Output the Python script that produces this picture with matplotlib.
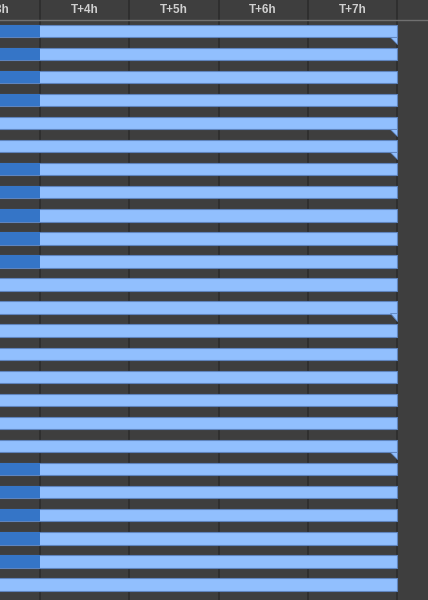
import numpy as np
import matplotlib.pyplot as plt

# Schedule rows (top to bottom), hours from T
row_start = [0] * 25
row_end = [8] * 25
row_done = [4, 4, 4, 4, 0, 0, 4, 4, 4, 4, 4, 0, 0,
            0, 0, 0, 0, 0, 0, 4, 4, 4, 4, 4, 0]
row_folded = [1, 0, 0, 0, 1, 1, 0, 0, 0, 0, 0, 0, 1,
              0, 0, 0, 0, 0, 1, 0, 0, 0, 0, 0, 0]
hour_ticks = [3, 4, 5, 6, 7, 8]
hour_labels = ['T+3h', 'T+4h', 'T+5h', 'T+6h', 'T+7h', 'T+8h']

bg = '#3e3e3e'
grid_col = '#2c2c2c'
light = '#91bffe'
dark = '#3575c7'
edge = '#5f84bd'

# pixel scale of the view
px_per_hour = 89.25
px_per_row = 23.07
x_lo = 4 - 40 / px_per_hour
x_hi = x_lo + 428 / px_per_hour
y_top = -30.75 / px_per_row
y_bot = y_top + 600 / px_per_row
header_y = y_top + 20 / px_per_row

fig = plt.figure(figsize=(4.28, 6), dpi=100, facecolor=bg)
ax = fig.add_axes([0, 0, 1, 1])
ax.set_xlim(x_lo, x_hi)
ax.set_ylim(y_bot, y_top)
ax.axis('off')

rows = np.arange(len(row_end))
start = np.array(row_start, dtype=float)
end = np.array(row_end, dtype=float)
done = np.array(row_done, dtype=float)
bar_h = 0.54

# grid
ax.vlines(hour_ticks, y_top, y_bot, color=grid_col, lw=1.2, zorder=1)
ax.axhline(header_y, color='#707070', lw=1, zorder=1)

# bars
ax.barh(rows, end - start, left=start, height=bar_h, color=light,
        edgecolor=edge, linewidth=0.8, zorder=2)
m = done > start
ax.barh(rows[m], (done - start)[m], left=start[m], height=bar_h,
        color=dark, linewidth=0, zorder=3)

# folded corner markers
dx = 7 / px_per_hour
dy = 7 / px_per_row
for i in rows:
    if row_folded[i]:
        b = i + bar_h / 2
        ax.fill([end[i] - dx, end[i], end[i]], [b - 0.02, b - 0.02, b + dy],
                color=light, edgecolor=edge, linewidth=0.6, zorder=2)

# header labels centred in each hour column
for h, lab in zip(hour_ticks, hour_labels):
    ax.text(h + 0.5, (y_top + header_y) / 2, lab, ha='center', va='center',
            color='#d0d0d0', fontsize=8.5, fontweight='bold',
            family='Liberation Sans')

fig.savefig('out.png', dpi=100, facecolor=bg)
